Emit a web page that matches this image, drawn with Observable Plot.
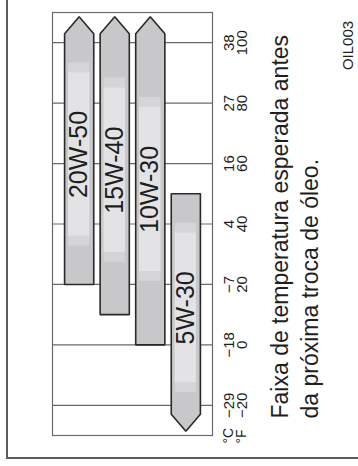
<!DOCTYPE html>
<html>
<head>
<meta charset="utf-8">
<script src="https://cdn.jsdelivr.net/npm/d3@7"></script>
<script src="https://cdn.jsdelivr.net/npm/@observablehq/plot@0.6"></script>
<style>
  html, body { margin: 0; padding: 0; background: #fff; }
  #wrap { position: relative; width: 358px; height: 466px; overflow: hidden; }
  #border { position: absolute; left: 6px; top: -10px; width: 370px; height: 469px;
            border-left: 2px solid #5c5c5c; border-bottom: 2px solid #5c5c5c; box-sizing: border-box; }
  #chart { position: absolute; left: 0; top: 0; }
</style>
</head>
<body>
<div id="wrap"><div id="border"></div><div id="chart"></div></div>
<script>
// ---- data ----
const grades = ["20W-50", "15W-40", "10W-30", "5W-30"];
const lowF = [20, 10, 0, null];        // null = open-ended (arrow) below
const highF = [null, null, null, 50];  // null = open-ended (arrow) above
const shadeLowF = [36, 30.6, 24.3, -12.5];
const shadeHighF = [90, 85, 78.6, 37];
const tickF = [-20, 0, 20, 40, 60, 80, 100];
const tickC = ["−29", "−18", "−7", "4", "16", "27", "38"];
const tickFLabels = ["−20", "0", "20", "40", "60", "80", "100"];
const unitC = ["°C"];
const unitF = ["°F"];
const titleLine1 = ["Faixa de temperatura esperada antes"];
const titleLine2 = ["da próxima troca de óleo."];
const figCode = ["OIL003"];
const domainF = [-30, 110];

// ---- build shapes from data ----
const H = 0.41, TIP = 1.4, SHOULDER = 7, INSET = 0.11, FADE = 3.3;
const poly = [];
grades.forEach((g, i) => {
  const top = highF[i] ?? domainF[1] - SHOULDER;
  const bot = lowF[i] ?? domainF[0] + SHOULDER;
  poly.push({g, x: i - H, y: top});
  if (highF[i] == null) poly.push({g, x: i, y: domainF[1] - TIP});
  poly.push({g, x: i + H, y: top});
  poly.push({g, x: i + H, y: bot});
  if (lowF[i] == null) poly.push({g, x: i, y: domainF[0] + TIP});
  poly.push({g, x: i - H, y: bot});
});
const shades = grades.map((g, i) => ({
  g, i, x1: i - H + INSET, x2: i + H - INSET, lo: shadeLowF[i], hi: shadeHighF[i],
  mid: (shadeLowF[i] + shadeHighF[i]) / 2
}));
const ticks = tickF.map((f, k) => ({f, c: tickC[k], fl: tickFLabels[k]}));

const font = "'Liberation Sans', Arial, Helvetica, sans-serif";
const ink = "#1e1e1e";
const id = d => d;
const vText = {rotate: -90, fill: ink, lineAnchor: "middle"};

const chart = Plot.plot({
  width: 358, height: 466,
  marginTop: 12, marginRight: 146, marginBottom: 31, marginLeft: 52,
  style: {fontFamily: font, background: "transparent", overflow: "visible"},
  x: {domain: [-0.75, 3.75], axis: null},
  y: {domain: domainF, axis: null},
  marks: [
    Plot.ruleY(tickF, {stroke: "#6a6a6a", strokeWidth: 1.2}),
    Plot.frame({stroke: "#6a6a6a", strokeWidth: 1.2}),
    Plot.line(poly, {x: "x", y: "y", z: "g", curve: "linear-closed", fill: "#c8c8ca", stroke: "none"}),
    Plot.rect(shades, {x1: "x1", x2: "x2", y1: d => d.lo - FADE, y2: d => d.hi + FADE, fill: "#d5d5d7"}),
    Plot.rect(shades, {x1: "x1", x2: "x2", y1: "lo", y2: "hi", fill: "#e3e3e5"}),
    Plot.line(poly, {x: "x", y: "y", z: "g", curve: "linear-closed", fill: "none", stroke: "#2a2a2a", strokeWidth: 1.6, strokeLinejoin: "miter"}),
    Plot.text(shades, {...vText, x: "i", y: "mid", text: "g", fontSize: 25, textAnchor: "middle"}),
    Plot.text(ticks, {...vText, y: "f", text: "c", frameAnchor: "right", dx: 17, textAnchor: "middle", fontSize: 15}),
    Plot.text(ticks, {...vText, y: "f", text: "fl", frameAnchor: "right", dx: 30, textAnchor: "middle", fontSize: 15}),
    Plot.text(unitC, {...vText, text: id, frameAnchor: "bottom-right", dx: 16, dy: 8, textAnchor: "start", fontSize: 14}),
    Plot.text(unitF, {...vText, text: id, frameAnchor: "bottom-right", dx: 29, dy: 8, textAnchor: "start", fontSize: 14}),
    Plot.text(titleLine1, {...vText, text: id, frameAnchor: "bottom-right", dx: 68.5, dy: -17, textAnchor: "start", fontSize: 23}),
    Plot.text(titleLine2, {...vText, text: id, frameAnchor: "bottom-right", dx: 98, dy: -17, textAnchor: "start", fontSize: 23}),
    Plot.text(figCode, {...vText, text: id, frameAnchor: "top-right", dx: 136, dy: 33, textAnchor: "middle", fontSize: 15})
  ]
});
document.getElementById("chart").appendChild(chart);
</script>
</body>
</html>
